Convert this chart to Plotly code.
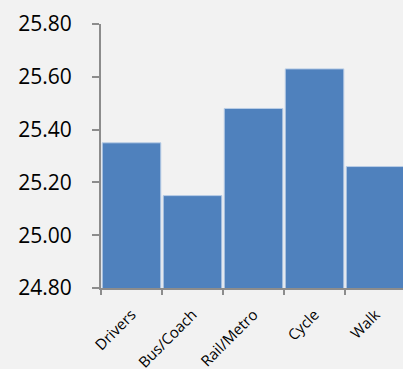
import plotly.graph_objects as go

# Mean values by mode of transport
modes = ["Drivers", "Bus/Coach", "Rail/Metro", "Cycle", "Walk"]
values = [25.35, 25.15, 25.48, 25.63, 25.26]
y_ticks = [24.80, 25.00, 25.20, 25.40, 25.60, 25.80]

bg = "#f2f2f2"
axis_col = "#8c8c8c"

fig = go.Figure(
    go.Bar(
        x=modes,
        y=values,
        marker=dict(color="#4f81bd", line=dict(color="#b9cde6", width=1)),
        hoverinfo="x+y",
    )
)

fig.update_layout(
    width=403,
    height=369,
    margin=dict(l=101, r=0, t=24, b=80.5, pad=0),
    paper_bgcolor=bg,
    plot_bgcolor=bg,
    bargap=0.04,
    showlegend=False,
    font=dict(family="Open Sans", color="#000000"),
)

fig.update_xaxes(
    type="category",
    range=[-0.5, 4.45],
    automargin=False,
    tickson="boundaries",
    ticks="outside",
    ticklen=5,
    tickwidth=2,
    tickcolor=axis_col,
    showline=True,
    linecolor=axis_col,
    linewidth=2,
    showgrid=False,
    tickangle=-45,
    ticklabelstandoff=10,
    tickfont=dict(size=15, family="Open Sans"),
)

fig.update_yaxes(
    range=[24.8, 25.8],
    automargin=False,
    tickvals=y_ticks,
    tickformat=".2f",
    ticks="outside",
    ticklen=7,
    tickwidth=2,
    tickcolor=axis_col,
    showline=True,
    linecolor=axis_col,
    linewidth=2,
    showgrid=False,
    zeroline=False,
    ticklabelstandoff=16,
    tickfont=dict(size=21, family="Open Sans"),
)

fig.write_html("out.html")
